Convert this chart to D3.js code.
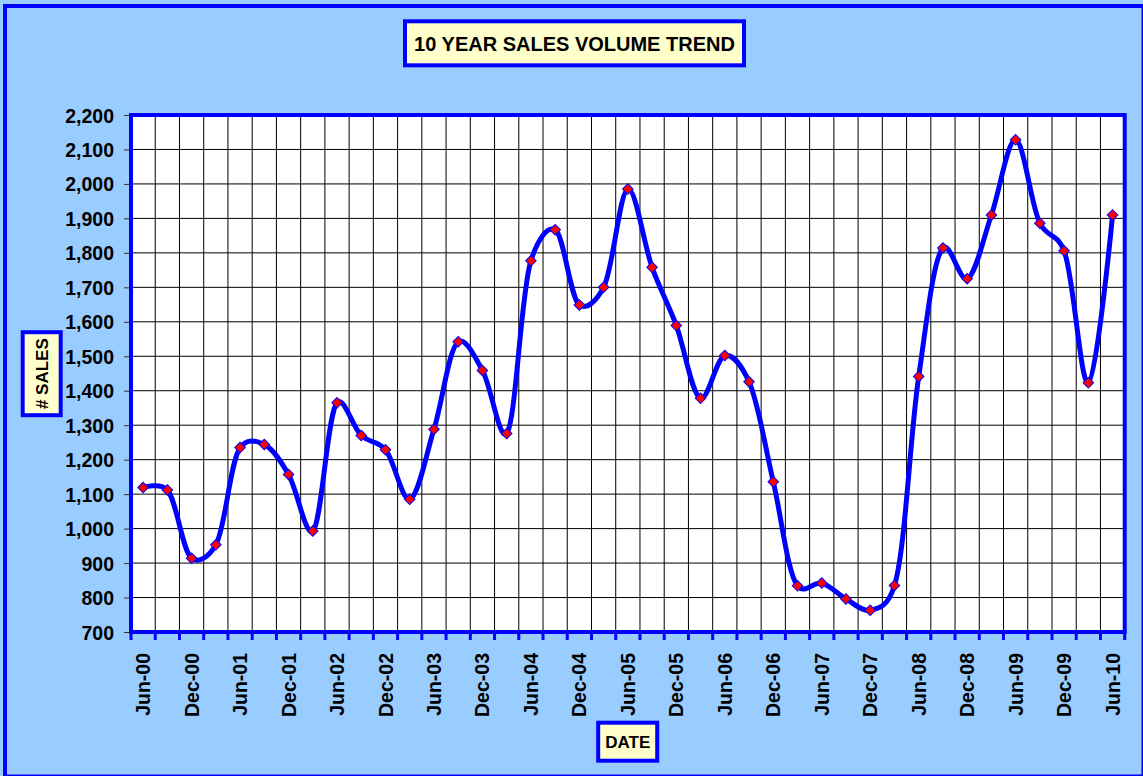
<!DOCTYPE html>
<html>
<head>
<meta charset="utf-8">
<script src="https://cdn.jsdelivr.net/npm/d3@7"></script>
<style>
  body { margin: 0; background: #99CCFF; }
  svg { display: block; font-family: Arial, "Liberation Sans", sans-serif; }
</style>
</head>
<body>
<div id="chart"></div>
<script>
// quarterly categories
var quarters = ["Jun-00","Sep-00","Dec-00","Mar-01","Jun-01","Sep-01","Dec-01","Mar-02",
  "Jun-02","Sep-02","Dec-02","Mar-03","Jun-03","Sep-03","Dec-03","Mar-04",
  "Jun-04","Sep-04","Dec-04","Mar-05","Jun-05","Sep-05","Dec-05","Mar-06",
  "Jun-06","Sep-06","Dec-06","Mar-07","Jun-07","Sep-07","Dec-07","Mar-08",
  "Jun-08","Sep-08","Dec-08","Mar-09","Jun-09","Sep-09","Dec-09","Mar-10","Jun-10"];

// # of sales per quarter
var sales = [1119,1112,914,953,1235,1244,1157,993,
  1365,1270,1229,1085,1288,1542,1459,1276,
  1777,1867,1649,1700,1985,1758,1589,1378,
  1502,1426,1136,834,842,796,763,835,
  1441,1814,1725,1910,2128,1886,1806,1423,1910];

// y tick values
var yTicks = [700,800,900,1000,1100,1200,1300,1400,1500,1600,1700,1800,1900,2000,2100,2200];

var data = quarters.map(function(q, i) { return {q: q, v: sales[i]}; });

var W = 1143, H = 776;
var margin = {top: 115, right: 18.3, bottom: 144, left: 131},
    width = W - margin.left - margin.right,
    height = H - margin.top - margin.bottom;

var svg = d3.select("#chart").append("svg")
    .attr("width", W)
    .attr("height", H);

// chart area background + border
svg.append("rect")
    .attr("x", 5).attr("y", 6)
    .attr("width", 1138.5).attr("height", 770.5)
    .attr("fill", "#99CCFF")
    .attr("stroke", "#0000FF")
    .attr("stroke-width", 4);

var x = d3.scaleBand()
    .domain(quarters)
    .range([0, width])
    .padding(0);
var y = d3.scaleLinear()
    .domain([700, 2200])
    .range([height, 0]);

var g = svg.append("g")
    .attr("transform", "translate(" + margin.left + "," + margin.top + ")");

// plot background
g.append("rect")
    .attr("width", width).attr("height", height)
    .attr("fill", "#fff");

// vertical gridlines at category boundaries
var bounds = quarters.map(function(q) { return x(q); });
g.selectAll(".vgrid")
    .data(bounds.slice(1))
  .enter().append("line")
    .attr("class", "vgrid")
    .attr("x1", function(d) { return d; })
    .attr("x2", function(d) { return d; })
    .attr("y1", 0).attr("y2", height)
    .attr("stroke", "#000").attr("stroke-width", 1);

// horizontal gridlines
g.selectAll(".hgrid")
    .data(yTicks.slice(1, -1))
  .enter().append("line")
    .attr("class", "hgrid")
    .attr("x1", 0).attr("x2", width)
    .attr("y1", function(d) { return y(d); })
    .attr("y2", function(d) { return y(d); })
    .attr("stroke", "#000").attr("stroke-width", 1);

// y axis
var yAxis = g.append("g")
    .call(d3.axisLeft(y).tickValues(yTicks).tickSize(7).tickPadding(10)
      .tickFormat(d3.format(",")));
yAxis.select(".domain").remove();
yAxis.selectAll("line").attr("stroke", "#333");
yAxis.selectAll("text")
    .attr("fill", "#000")
    .style("font-size", "19.5px")
    .style("font-weight", "bold")
    .attr("dy", "0.36em");

// x tick marks at boundaries
g.selectAll(".xtick")
    .data(bounds.concat([width]))
  .enter().append("line")
    .attr("class", "xtick")
    .attr("x1", function(d) { return d; })
    .attr("x2", function(d) { return d; })
    .attr("y1", height).attr("y2", height + 8)
    .attr("stroke", "#0000FF").attr("stroke-width", 3);

// x labels (every second quarter)
var labelQ = quarters.filter(function(q, i) { return i % 2 === 0; });
g.selectAll(".xlabel")
    .data(labelQ)
  .enter().append("text")
    .attr("class", "xlabel")
    .attr("transform", function(d) {
      return "translate(" + (x(d) + x.bandwidth() / 2) + "," + (height + 21) + ") rotate(-90)";
    })
    .attr("text-anchor", "end")
    .attr("dy", "0.36em")
    .style("font-size", "19.5px")
    .style("font-weight", "bold")
    .text(function(d) { return d; });

// plot frame
g.append("rect")
    .attr("width", width).attr("height", height)
    .attr("fill", "none")
    .attr("stroke", "#0000FF")
    .attr("stroke-width", 4);

// smoothed line
var line = d3.line()
    .x(function(d) { return x(d.q) + x.bandwidth() / 2; })
    .y(function(d) { return y(d.v); })
    .curve(d3.curveCatmullRom.alpha(0.25));

g.append("path")
    .datum(data)
    .attr("fill", "none")
    .attr("stroke", "#0000FF")
    .attr("stroke-width", 5)
    .attr("stroke-linejoin", "round")
    .attr("d", line);

// diamond markers
var diamond = d3.symbol().type(d3.symbolSquare).size(56);
g.selectAll(".pt")
    .data(data)
  .enter().append("path")
    .attr("class", "pt")
    .attr("d", diamond)
    .attr("transform", function(d) {
      return "translate(" + (x(d.q) + x.bandwidth() / 2) + "," + y(d.v) + ") rotate(45)";
    })
    .attr("fill", "#FF0000")
    .attr("stroke", "#0000FF")
    .attr("stroke-width", 1);

// labelled boxes
function box(cx, cy, w, h, txt, size, rot) {
  var b = svg.append("g").attr("transform", "translate(" + cx + "," + cy + ")");
  b.append("rect")
      .attr("x", -w / 2).attr("y", -h / 2)
      .attr("width", w).attr("height", h)
      .attr("fill", "#FFFFCC")
      .attr("stroke", "#0000FF")
      .attr("stroke-width", 4);
  b.append("text")
      .attr("transform", rot ? "rotate(-90)" : null)
      .attr("text-anchor", "middle")
      .attr("dy", "0.36em")
      .style("font-size", size + "px")
      .style("font-weight", "bold")
      .text(txt);
}

box(574.5, 43.3, 339, 44, "10 YEAR SALES VOLUME TREND", 20, false);
box(41.7, 373.7, 38, 83, "# SALES", 17, true);
box(627.7, 741.7, 59, 38, "DATE", 17, false);
</script>
</body>
</html>
